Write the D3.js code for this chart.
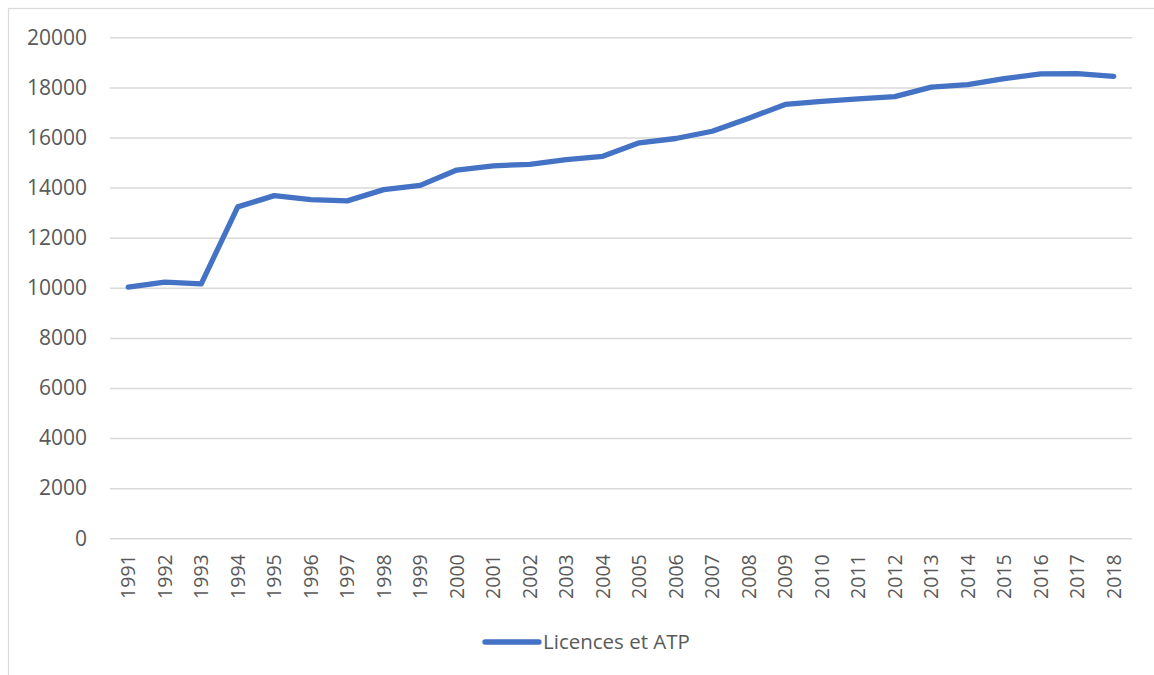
<!DOCTYPE html>
<html>
<head>
<meta charset="utf-8">
<script src="https://cdn.jsdelivr.net/npm/d3@7"></script>
<style>
  body { margin: 0; background: #fff; }
  text { font-family: "Open Sans", sans-serif; fill: #595959; }
</style>
</head>
<body>
<div id="chart"></div>
<script>
// Years on the category axis
const years = ["1991","1992","1993","1994","1995","1996","1997","1998","1999","2000",
  "2001","2002","2003","2004","2005","2006","2007","2008","2009","2010",
  "2011","2012","2013","2014","2015","2016","2017","2018"];

// Licences et ATP
const licences = [10030, 10230, 10160, 13230, 13680, 13520, 13470, 13920, 14090, 14700,
  14870, 14930, 15120, 15250, 15790, 15960, 16250, 16770, 17320, 17440,
  17540, 17630, 18010, 18110, 18350, 18540, 18550, 18440];

const yTicks = [0, 2000, 4000, 6000, 8000, 10000, 12000, 14000, 16000, 18000, 20000];
const seriesName = "Licences et ATP";

const svgWidth = 1154, svgHeight = 675;
const margin = {top: 37.3, right: 22, bottom: 136.7, left: 110};
const width = svgWidth - margin.left - margin.right,
      height = svgHeight - margin.top - margin.bottom;

const svg = d3.select("#chart").append("svg")
  .attr("width", svgWidth)
  .attr("height", svgHeight);

// outer chart border
svg.append("rect")
  .attr("x", 8.5).attr("y", 8.5)
  .attr("width", svgWidth + 20).attr("height", svgHeight + 20)
  .attr("fill", "none")
  .attr("stroke", "#d9d9d9")
  .attr("stroke-width", 1.2);

const g = svg.append("g")
  .attr("transform", "translate(" + margin.left + "," + margin.top + ")");

const x = d3.scaleBand().domain(years).range([0, width]);
const y = d3.scaleLinear().domain([0, 20000]).range([height, 0]);

// y axis with gridlines
const yAxis = g.append("g")
  .call(d3.axisLeft(y).tickValues(yTicks).tickSize(-width).tickPadding(23).tickFormat(d3.format("d")));
yAxis.select(".domain").remove();
yAxis.selectAll(".tick line").attr("stroke", "#d9d9d9").attr("stroke-width", 1.5);
yAxis.selectAll(".tick text")
  .style("font-size", "21px")
  .attr("fill", "#595959");

// x axis, rotated year labels
const xAxis = g.append("g")
  .attr("transform", "translate(0," + height + ")")
  .call(d3.axisBottom(x).tickSize(0));
xAxis.select(".domain").remove();
xAxis.selectAll(".tick text")
  .style("font-size", "19.5px")
  .attr("fill", "#595959")
  .attr("transform", "rotate(-90)")
  .attr("text-anchor", "end")
  .attr("x", -16)
  .attr("y", 0)
  .attr("dy", "0.35em");

// the line
const line = d3.line()
  .x((d, i) => x(years[i]) + x.bandwidth() / 2)
  .y(d => y(d));

g.append("path")
  .datum(licences)
  .attr("fill", "none")
  .attr("stroke", "#4472c4")
  .attr("stroke-width", 5.3)
  .attr("stroke-linejoin", "round")
  .attr("stroke-linecap", "round")
  .attr("d", line);

// legend
const legend = svg.append("g").attr("transform", "translate(485,642)");
legend.append("line")
  .attr("x1", 0).attr("x2", 54)
  .attr("stroke", "#4472c4")
  .attr("stroke-width", 5.3)
  .attr("stroke-linecap", "round");
legend.append("text")
  .attr("x", 58)
  .attr("dy", "0.35em")
  .style("font-size", "20.5px")
  .text(seriesName);
</script>
</body>
</html>
